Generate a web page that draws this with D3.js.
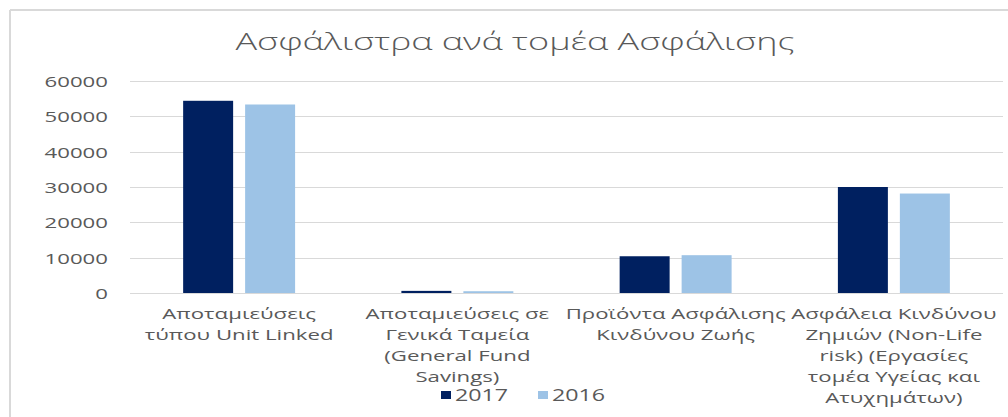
<!DOCTYPE html>
<html>
<head>
<meta charset="utf-8">
<script src="https://cdn.jsdelivr.net/npm/d3@7"></script>
<style>
  html, body { margin: 0; padding: 0; background: #ffffff; }
  svg { display: block; }
  text { font-family: "Open Sans", "Noto Sans", "DejaVu Sans", sans-serif; fill: #595959; }
</style>
</head>
<body>
<svg id="chart" width="1008" height="417"></svg>
<script>
// ---- data ----
const title = "Ασφάλιστρα ανά τομέα Ασφάλισης";
const categories = [
  "Αποταμιεύσεις\nτύπου Unit Linked",
  "Αποταμιεύσεις σε\nΓενικά Ταμεία\n(General Fund\nSavings)",
  "Προϊόντα Ασφάλισης\nΚινδύνου Ζωής",
  "Ασφάλεια Κινδύνου\nΖημιών (Non-Life\nrisk) (Εργασίες\nτομέα Υγείας και\nΑτυχημάτων)"
];
const seriesNames = ["2017", "2016"];
const values2017 = [54400, 600, 10400, 30000];
const values2016 = [53350, 500, 10700, 28150];
const yTicks = [0, 10000, 20000, 30000, 40000, 50000, 60000];
const colors = ["#002060", "#9DC3E6"];

// ---- layout ----
const svg = d3.select("#chart");
const W = 1008, H = 417;
const plot = { left: 130, right: 1003, top: 81, bottom: 293 };
const SX = 1.5; // horizontal stretch of the reference text

// frame
svg.append("line").attr("x1", 10).attr("x2", W).attr("y1", 10).attr("y2", 10)
  .attr("stroke", "#d9d9d9").attr("stroke-width", 2);
svg.append("line").attr("x1", 10).attr("x2", 10).attr("y1", 10).attr("y2", H)
  .attr("stroke", "#d9d9d9").attr("stroke-width", 2);

// title
svg.append("text")
  .attr("transform", `translate(515,50) scale(${SX},1)`)
  .attr("text-anchor", "middle")
  .attr("font-size", 24)
  .attr("font-weight", 300)
  .text(title);

// scales
const x0 = d3.scaleBand().domain(categories).range([plot.left, plot.right])
  .paddingInner(0.487).paddingOuter(0.2435);
const x1 = d3.scaleBand().domain(seriesNames).range([0, x0.bandwidth()]).paddingInner(0.1935);
const y = d3.scaleLinear().domain([0, 60000]).range([plot.bottom, plot.top]);

// gridlines
svg.append("g").selectAll("line").data(yTicks).join("line")
  .attr("x1", plot.left).attr("x2", plot.right)
  .attr("y1", d => Math.round(y(d)) + 0.5).attr("y2", d => Math.round(y(d)) + 0.5)
  .attr("stroke", "#d9d9d9").attr("stroke-width", 1);

// y axis labels
const yAxis = svg.append("g").attr("transform", `translate(${plot.left},0)`)
  .call(d3.axisLeft(y).tickValues(yTicks).tickFormat(d3.format("d")).tickSize(0).tickPadding(0));
yAxis.select(".domain").remove();
yAxis.selectAll("text")
  .attr("x", null).attr("dy", null)
  .attr("transform", `translate(-22,5.5) scale(${SX},1)`)
  .attr("text-anchor", "end")
  .attr("font-size", 14.8)
  .attr("font-family", null)
  .attr("fill", "#595959");

// bars
const series = [values2017, values2016];
const barData = [];
categories.forEach((c, i) => {
  seriesNames.forEach((s, j) => barData.push({ cat: c, s, v: series[j][i], color: colors[j] }));
});
svg.append("g").selectAll("rect").data(barData).join("rect")
  .attr("x", d => x0(d.cat) + x1(d.s))
  .attr("width", x1.bandwidth())
  .attr("y", d => y(d.v))
  .attr("height", d => y(0) - y(d.v))
  .attr("fill", d => d.color);

// category labels
const lineH = 21;
const catG = svg.append("g");
categories.forEach(c => {
  const cx = x0(c) + x0.bandwidth() / 2;
  c.split("\n").forEach((line, k) => {
    catG.append("text")
      .attr("transform", `translate(${cx},${319 + k * lineH}) scale(${SX},1)`)
      .attr("text-anchor", "middle")
      .attr("font-size", 14.8)
      .text(line);
  });
});

// legend
const legendX = [441, 538];
seriesNames.forEach((s, j) => {
  svg.append("rect").attr("x", legendX[j]).attr("y", 391).attr("width", 10).attr("height", 8)
    .attr("fill", colors[j]);
  svg.append("text")
    .attr("transform", `translate(${legendX[j] + 14},401) scale(${SX},1)`)
    .attr("font-size", 15.5)
    .text(s);
});
</script>
</body>
</html>
